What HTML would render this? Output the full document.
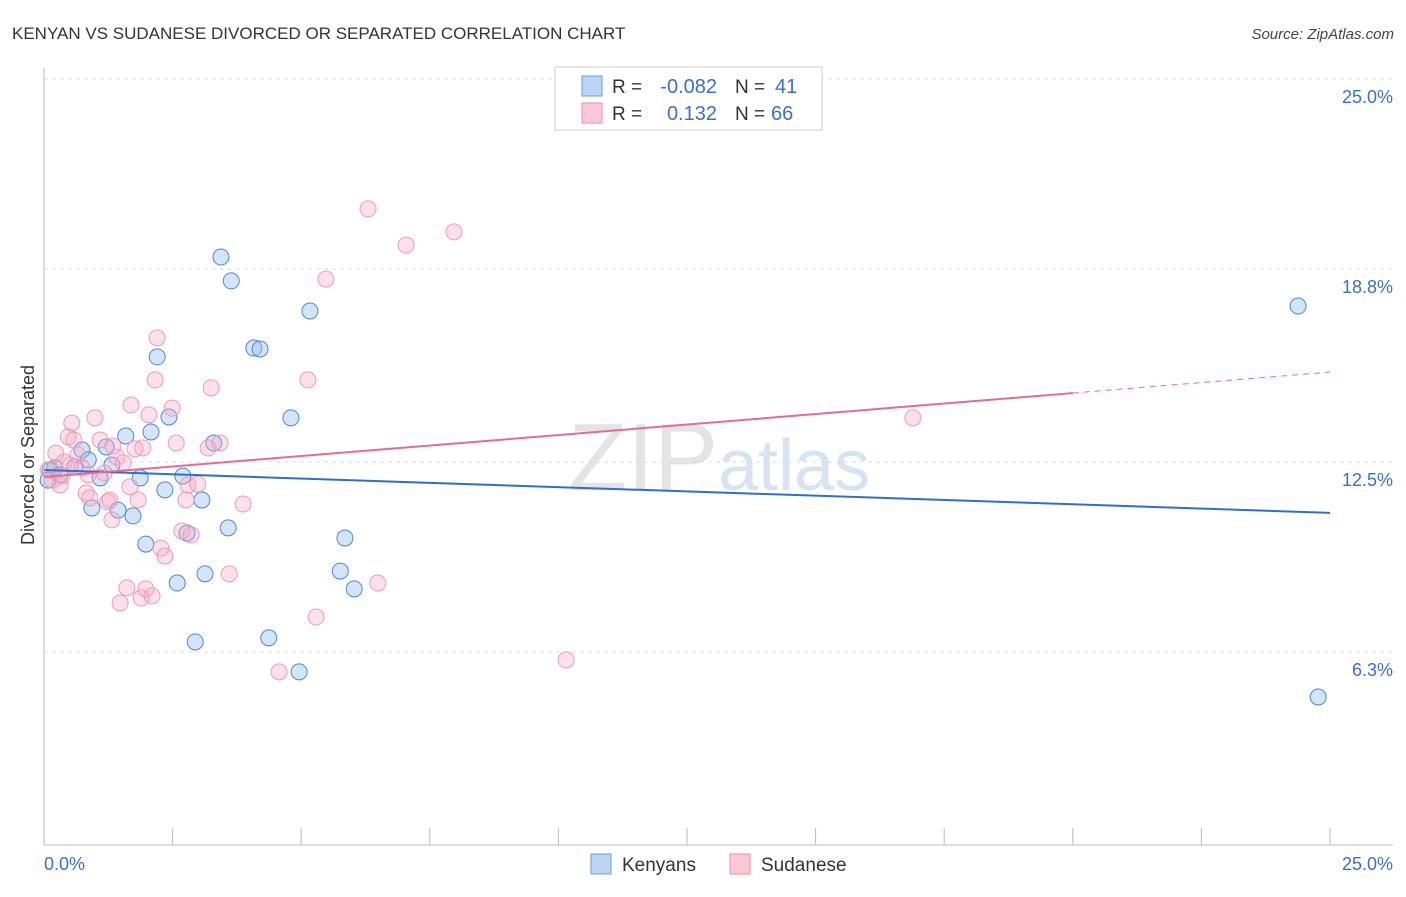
<!DOCTYPE html>
<html><head><meta charset="utf-8"><style>
body{margin:0;background:#fff;font-family:"Liberation Sans",sans-serif}
svg text{font-family:"Liberation Sans",sans-serif}
</style></head><body>
<svg id="c" width="1406" height="892">
<text x="12" y="39" font-size="17" fill="#333">KENYAN VS SUDANESE DIVORCED OR SEPARATED CORRELATION CHART</text>
<text x="1394" y="39" font-size="15" font-style="italic" fill="#444" text-anchor="end">Source: ZipAtlas.com</text>
<text x="718" y="490" font-size="96" font-family="Liberation Serif" fill="#e4e4e4" text-anchor="end">ZIP</text>
<text x="718" y="490" font-size="72" fill="#d6e3f3">atlas</text>
<g id="grid"></g><g id="pts"></g><g id="lines"></g>
<line x1="44" y1="68" x2="44" y2="845" stroke="#bbb"/>
<line x1="44" y1="845" x2="1393" y2="845" stroke="#bbb"/>
<text x="34" y="455" font-size="18" fill="#333" text-anchor="middle" transform="rotate(-90 34 455)">Divorced or Separated</text>
<text x="44" y="870" font-size="18" fill="#3a6fd0">0.0%</text>
<text x="1393" y="870" font-size="18" fill="#3a6fd0" text-anchor="end">25.0%</text>
<g>
<rect x="555" y="67" width="267" height="63" fill="#fff" stroke="#ccc"/>
<rect x="582" y="76" width="20" height="20" fill="#bcd4f4" stroke="#6b9de0"/>
<rect x="582" y="103" width="20" height="20" fill="#fcc8d8" stroke="#eb8fae"/>
<text x="612" y="93" font-size="19" fill="#333">R =</text>
<text x="717" y="93" font-size="20" fill="#3a6fd0" text-anchor="end">-0.082</text>
<text x="735" y="93" font-size="19" fill="#333">N =</text>
<text x="775" y="93" font-size="20" fill="#3a6fd0">41</text>
<text x="612" y="120" font-size="19" fill="#333">R =</text>
<text x="717" y="120" font-size="20" fill="#3a6fd0" text-anchor="end">0.132</text>
<text x="735" y="120" font-size="19" fill="#333">N =</text>
<text x="771" y="120" font-size="20" fill="#3a6fd0">66</text>
</g>
<g>
<rect x="591" y="854" width="20" height="20" fill="#bcd4f4" stroke="#6b9de0"/>
<text x="622" y="871" font-size="19" fill="#333">Kenyans</text>
<rect x="730" y="854" width="20" height="20" fill="#fcc8d8" stroke="#eb8fae"/>
<text x="761" y="871" font-size="19" fill="#333">Sudanese</text>
</g>
</svg>
<script>
const yTicks=[25.0,18.8,12.5,6.3];
const yTickLabels=["25.0%","18.8%","12.5%","6.3%"];
const xTicks=[0,2.5,5,7.5,10,12.5,15,17.5,20,22.5,25];
const kenyanX=[0.12,0.21,0.31,0.60,0.74,0.86,0.93,1.09,1.21,1.32,1.44,1.59,1.73,1.87,1.98,2.08,2.20,2.35,2.43,2.59,2.70,2.78,2.94,3.07,3.13,3.30,3.44,3.58,3.64,4.08,4.20,4.37,4.80,4.96,5.17,5.76,5.85,6.03,24.38,24.77,0.08];
const kenyanY=[12.24,12.31,12.08,12.34,12.89,12.57,11.00,11.98,12.99,12.40,10.93,13.35,10.74,11.98,9.82,13.48,15.93,11.59,13.97,8.55,12.04,10.18,6.63,11.26,8.85,13.12,19.19,10.35,18.41,16.22,16.19,6.76,13.94,5.65,17.43,8.94,10.02,8.36,17.59,4.83,11.91];
const sudX=[0.08,0.16,0.23,0.31,0.39,0.47,0.54,0.58,0.66,0.74,0.82,0.89,0.99,1.09,1.17,1.24,1.32,1.34,1.42,1.48,1.54,1.61,1.67,1.69,1.83,1.89,1.92,1.98,2.04,2.10,2.16,2.20,2.27,2.35,2.49,2.57,2.68,2.76,2.80,2.86,2.99,3.19,3.25,3.42,3.60,3.87,4.57,5.13,5.29,5.48,6.30,6.49,7.04,7.97,10.15,16.89,0.35,1.28,1.77,0.51,0.86];
const sudY=[12.24,11.91,12.79,11.75,12.50,13.32,13.77,13.22,12.73,12.31,11.49,11.33,13.94,13.22,12.14,11.20,10.61,13.02,12.66,7.90,12.47,8.39,11.69,14.36,11.26,8.06,12.96,8.36,14.04,8.13,15.18,16.55,9.69,9.43,14.26,13.12,10.25,11.26,11.75,10.12,11.78,12.96,14.92,13.12,8.85,11.13,5.65,15.18,7.44,18.47,20.76,8.55,19.58,20.01,6.04,13.94,12.04,11.26,12.93,12.40,12.08];
const kenyanLine=[12.24,-0.056];
const sudLine=[12.01,0.137];
const X=v=>44+v*1286/25, Y=v=>845-v*30.64;
const NS="http://www.w3.org/2000/svg";
function mk(t,p,a){const e=document.createElementNS(NS,t);for(const k in a)e.setAttribute(k,a[k]);p.appendChild(e);return e;}
const grid=document.getElementById('grid');
yTicks.forEach((v,i)=>{
 const l=mk('line',grid,{x1:44,x2:1393,y1:Y(v),y2:Y(v),stroke:'#ddd','stroke-dasharray':'4 4'});
 
 
 const t=mk('text',grid,{x:1393,y:Y(v)+24,'font-size':18,fill:'#3a6fd0','text-anchor':'end'});
 t.textContent=yTickLabels[i];
 
 
});
xTicks.forEach(v=>{
 const l=mk('line',grid,{x1:X(v),x2:X(v),y1:828,y2:845,stroke:'#bbb'});
 
 
});
const pts=document.getElementById('pts');
kenyanX.forEach((x,i)=>{
 const c=mk('circle',pts,{cx:X(x),cy:Y(kenyanY[i]),r:8,fill:'rgba(150,190,240,0.4)',stroke:'#4a86db','stroke-width':1});
 
 
});
sudX.forEach((x,i)=>{
 const c=mk('circle',pts,{cx:X(x),cy:Y(sudY[i]),r:8,fill:'rgba(248,170,195,0.35)',stroke:'#ee9ab5','stroke-width':1});
 
 
});
const lines=document.getElementById('lines');
const f=(L,x)=>L[0]+L[1]*x;
let a=mk('line',lines,{x1:X(0),y1:Y(f(kenyanLine,0)),x2:X(25),y2:Y(f(kenyanLine,25)),stroke:'#2a6fd6','stroke-width':2});


let b=mk('line',lines,{x1:X(0),y1:Y(f(sudLine,0)),x2:X(20),y2:Y(f(sudLine,20)),stroke:'#e66a95','stroke-width':2});


let d=mk('line',lines,{x1:X(20),y1:Y(f(sudLine,20)),x2:X(25),y2:Y(f(sudLine,25)),stroke:'#e66a95','stroke-width':1,'stroke-dasharray':'6 5'});


</script>
</body></html>
